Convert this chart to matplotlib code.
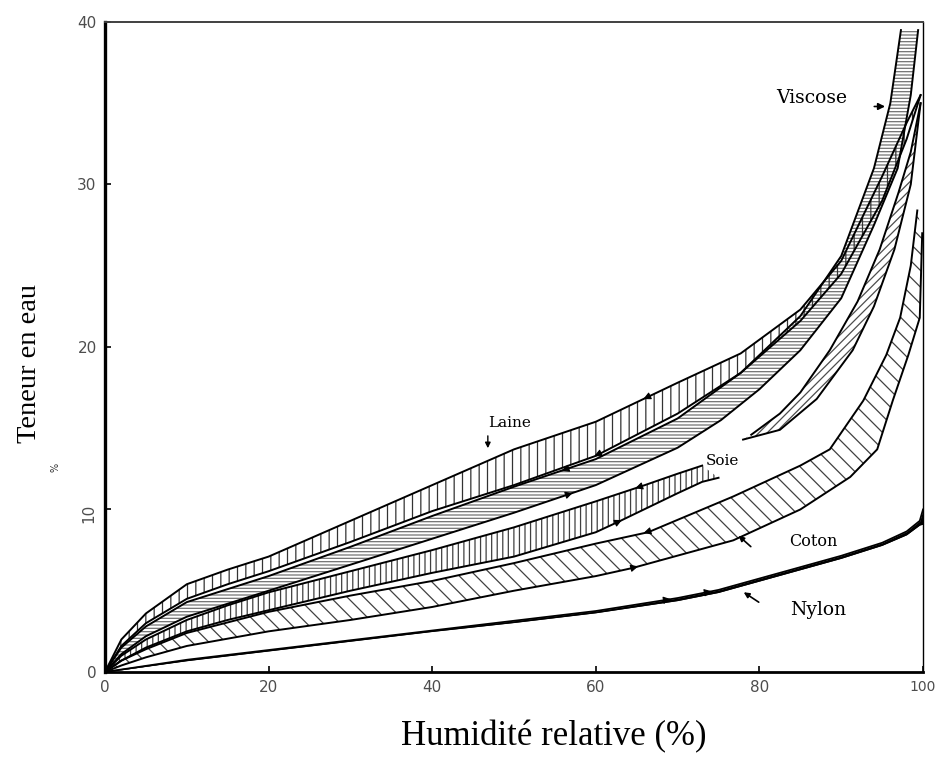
import numpy as np
import matplotlib
matplotlib.use("Agg")
import matplotlib.pyplot as plt

# Isothermes de sorption (hysteresis)
# Laine
laine_x_haut = [0, 2, 5, 10, 15, 20, 30, 40, 50, 60, 70, 77.7, 85, 90, 95, 98, 99.7]
laine_y_haut = [0, 2.0, 3.6, 5.4, 6.3, 7.1, 9.3, 11.5, 13.7, 15.4, 17.8, 19.6, 22.3, 25.3, 30.5, 33.8, 35.5]
laine_x_bas = [0, 2, 5, 10, 15, 20, 30, 40, 50, 60, 70, 77.7, 85, 90, 95, 98, 99.7]
laine_y_bas = [0, 1.6, 3.0, 4.5, 5.4, 6.2, 8.0, 9.9, 11.5, 13.3, 15.9, 18.4, 21.6, 24.5, 29.0, 32.8, 35.5]

# Viscose
visc_x_haut = [0, 2, 5, 10, 15, 20, 30, 40, 50, 60, 70, 77.7, 85, 90, 94, 96, 97.3]
visc_y_haut = [0, 1.5, 2.8, 4.3, 5.1, 5.9, 7.7, 9.6, 11.4, 13.1, 15.6, 18.4, 21.9, 25.6, 31.0, 35.0, 39.5]
visc_x_bas = [0, 2, 5, 10, 15, 20, 30, 40, 50, 60, 70, 75.3, 80, 85, 90, 94, 96.9, 98.5, 99.4]
visc_y_bas = [0, 1.1, 2.2, 3.4, 4.2, 5.0, 6.6, 8.2, 9.8, 11.5, 13.8, 15.5, 17.4, 19.8, 23.0, 27.5, 31.0, 35.5, 39.5]

# Soie (interrompue par l'etiquette)
soie_x_haut = [0, 2, 5, 10, 15, 20, 30, 40, 50, 60, 66, 70, 73]
soie_y_haut = [0, 1.0, 2.0, 3.2, 4.1, 4.9, 6.2, 7.5, 8.9, 10.5, 11.5, 12.2, 12.7]
soie_x_bas = [0, 2, 5, 10, 15, 20, 30, 40, 50, 60, 63, 70, 73, 75]
soie_y_bas = [0, 0.7, 1.5, 2.5, 3.2, 3.8, 5.0, 6.1, 7.1, 8.6, 9.3, 11.0, 11.7, 11.95]
soie2_x_haut = [79, 82.5, 85, 88.6, 92, 94.7, 97, 98.5, 99.7]
soie2_y_haut = [14.6, 15.9, 17.2, 19.8, 22.8, 26.0, 29.5, 32.0, 35.0]
soie2_x_bas = [78, 82.5, 87, 91.4, 94, 96.5, 98.5, 99.7]
soie2_y_bas = [14.3, 14.9, 16.8, 19.8, 22.5, 26.0, 30.0, 35.0]

# Coton
coton_x_haut = [0, 2, 5, 10, 20, 30, 40, 50, 60, 66.4, 76.8, 85, 88.6, 92.7, 95.5, 97.2, 98.5, 99.3]
coton_y_haut = [0, 0.7, 1.4, 2.4, 3.7, 4.7, 5.6, 6.7, 7.9, 8.6, 10.8, 12.7, 13.7, 16.7, 19.5, 21.8, 25.0, 28.4]
coton_x_bas = [0, 2, 5, 10, 20, 30, 40, 50, 60, 64.5, 76.8, 85, 91.1, 94.4, 96.3, 98.2, 99.6, 99.9]
coton_y_bas = [0, 0.4, 0.9, 1.6, 2.5, 3.2, 4.0, 5.0, 5.9, 6.4, 8.1, 10.0, 12.0, 13.7, 16.7, 19.5, 21.8, 27.0]

# Nylon (boucle tres etroite)
nylon_x = [0, 10, 20, 30, 40, 50, 60, 70, 75, 80, 85, 90, 95, 98, 99.6, 100]
nylon_y_haut = [0, 0.75, 1.35, 1.95, 2.55, 3.15, 3.75, 4.55, 5.05, 5.75, 6.45, 7.15, 7.95, 8.65, 9.3, 10.0]
nylon_y_bas = [0, 0.7, 1.3, 1.9, 2.5, 3.05, 3.65, 4.4, 4.9, 5.6, 6.3, 7.0, 7.8, 8.45, 9.05, 9.1]

xticks = [0, 20, 40, 60, 80, 100]
yticks = [0, 10, 20, 30, 40]

plt.rcParams["hatch.linewidth"] = 0.9

fig = plt.figure(figsize=(9.35, 7.58), dpi=100)
ax = fig.add_axes([0.1123, 0.1135, 0.8749, 0.8575])


def bande(xh, yh, xb, yb, hatch, hcol="0.25"):
    xs = np.r_[xh, xb[::-1]]
    ys = np.r_[yh, yb[::-1]]
    ax.fill(xs, ys, facecolor="none", edgecolor=hcol, hatch=hatch, linewidth=0)
    ax.plot(xh, yh, color="k", lw=1.4)
    ax.plot(xb, yb, color="k", lw=1.4)


def fleche(xc, yc, x0, sens):
    # petite tete de fleche sur la courbe
    dx = 1.5 * sens
    y0 = np.interp(x0, xc, yc)
    y1 = np.interp(x0 + dx, xc, yc)
    ax.annotate("", xy=(x0 + dx, y1), xytext=(x0, y0),
                arrowprops=dict(arrowstyle="-|>", color="k", lw=0.8, mutation_scale=11))


bande(visc_x_haut, visc_y_haut, visc_x_bas, visc_y_bas, "-----", "0.45")
bande(laine_x_haut, laine_y_haut, laine_x_bas, laine_y_bas, "||", "0.2")
bande(soie_x_haut, soie_y_haut, soie_x_bas, soie_y_bas, "|||", "0.25")
bande(soie2_x_haut, soie2_y_haut, soie2_x_bas, soie2_y_bas, "////", "0.3")
bande(coton_x_haut, coton_y_haut, coton_x_bas, coton_y_bas, "\\\\", "0.25")
ax.fill_between(nylon_x, nylon_y_bas, nylon_y_haut, color="k", lw=0)
ax.plot(nylon_x, nylon_y_haut, color="k", lw=1.3)
ax.plot(nylon_x, nylon_y_bas, color="k", lw=1.0)

fleche(laine_x_haut, laine_y_haut, 67, -1)
fleche(laine_x_bas, laine_y_bas, 61, -1)
fleche(visc_x_haut, visc_y_haut, 57, -1)
fleche(visc_x_bas, visc_y_bas, 56, 1)
fleche(soie_x_haut, soie_y_haut, 66, -1)
fleche(soie_x_bas, soie_y_bas, 62, 1)
fleche(coton_x_haut, coton_y_haut, 67, -1)
fleche(coton_x_bas, coton_y_bas, 64, 1)
fleche(nylon_x, nylon_y_haut, 68, 1)
fleche(nylon_x, nylon_y_haut, 73, 1)

# etiquettes
lab = dict(family="DejaVu Serif", color="k")
ax.text(86.4, 35.3, "Viscose", fontsize=13.5, ha="center", va="center", **lab)
ax.annotate("", xy=(95.7, 34.8), xytext=(93.7, 34.8),
            arrowprops=dict(arrowstyle="-|>", color="k", lw=1.2, mutation_scale=10))
ax.text(49.5, 15.3, "Laine", fontsize=11, ha="center", va="center", **lab)
ax.annotate("", xy=(46.8, 13.6), xytext=(46.8, 14.7),
            arrowprops=dict(arrowstyle="-|>", color="k", lw=1.0, mutation_scale=8))
ax.text(75.5, 13.0, "Soie", fontsize=11, ha="center", va="center", **lab)
ax.text(86.6, 8.0, "Coton", fontsize=11.5, ha="center", va="center", **lab)
ax.annotate("", xy=(77.2, 8.5), xytext=(79.2, 7.6),
            arrowprops=dict(arrowstyle="-|>", color="k", lw=1.2, mutation_scale=8))
ax.text(87.2, 3.8, "Nylon", fontsize=13.5, ha="center", va="center", **lab)
ax.annotate("", xy=(77.8, 5.0), xytext=(80.2, 4.2),
            arrowprops=dict(arrowstyle="-|>", color="k", lw=1.2, mutation_scale=8))

ax.set_xlim(0, 100)
ax.set_ylim(0, 40)
ax.set_xticks(xticks)
ax.set_yticks(yticks)
xlabs = ax.set_xticklabels([str(v) for v in xticks])
ylabs = ax.set_yticklabels([str(v) for v in yticks])
ylabs[1].set_rotation(90)
ax.tick_params(direction="in", length=4, width=1.2, labelsize=11, labelcolor="0.3", pad=6)
xlabs[-1].set_fontsize(10)

ax.spines["left"].set_linewidth(2.4)
ax.spines["bottom"].set_linewidth(2.0)
ax.spines["top"].set_linewidth(1.4)
ax.spines["top"].set_color("0.25")
ax.spines["right"].set_linewidth(1.0)

ax.set_xlabel("Humidité relative (%)", family="Liberation Serif", fontsize=25)
ax.xaxis.set_label_coords(0.548, -0.074)
ax.set_ylabel("Teneur en eau", family="Liberation Serif", fontsize=20.5)
ax.yaxis.set_label_coords(-0.077, 0.475)
ax.text(-6.1, 12.6, "%", rotation=90, fontsize=7, ha="center", va="center", color="0.2", clip_on=False)

fig.savefig("out.png", dpi=100)
